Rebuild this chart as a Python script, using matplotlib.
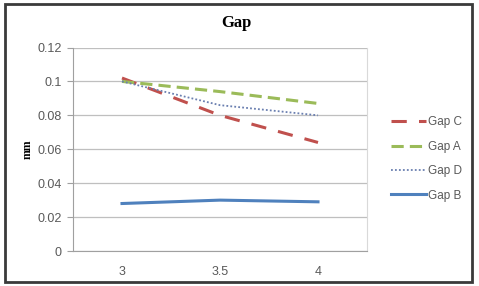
import matplotlib.pyplot as plt
from matplotlib.patches import Rectangle

# data
cats = ["3", "3.5", "4"]
gap_c = [0.102, 0.080, 0.064]
gap_a = [0.100, 0.094, 0.087]
gap_d = [0.100, 0.086, 0.080]
gap_b = [0.028, 0.030, 0.029]
yticks = [0, 0.02, 0.04, 0.06, 0.08, 0.1, 0.12]
ylabels = ["0", "0.02", "0.04", "0.06", "0.08", "0.1", "0.12"]

plt.rcParams['font.family'] = ['Liberation Sans', 'DejaVu Sans']

fig = plt.figure(figsize=(4.79, 2.86), dpi=100)
W, H = 479, 286
ax = fig.add_axes([73 / W, 1 - 251 / H, (367 - 73) / W, (251 - 47.5) / H])

x = list(range(len(cats)))
ax.plot(x, gap_c, color="#C0504D", lw=2.2, dashes=(5, 4), label="Gap C")
ax.plot(x, gap_a, color="#9BBB59", lw=2.2, dashes=(4, 2), label="Gap A")
ax.plot(x, gap_d, color="#6A7FB0", lw=1.3, dashes=(1, 1.2), label="Gap D")
ax.plot(x, gap_b, color="#4F81BD", lw=2.2, label="Gap B")

ax.set_xlim(-0.5, len(cats) - 0.5)
ax.set_ylim(0, 0.12)
ax.set_yticks(yticks)
ax.set_yticklabels(ylabels)
ax.set_xticks(x)
ax.set_xticklabels(cats)
ax.tick_params(axis="x", length=0, pad=11, labelsize=9, colors="#595959")
ax.tick_params(axis="y", length=4, color="#A0A0A0", labelsize=9, labelcolor="#595959", pad=4)
ax.grid(axis="y", color="#BFBFBF", lw=0.9)
ax.set_axisbelow(True)
ax.spines["top"].set_visible(False)
ax.spines["left"].set_color("#A0A0A0")
ax.spines["bottom"].set_color("#A0A0A0")
ax.spines["right"].set_color("#D9D9D9")

ax.set_ylabel("mm", fontfamily="Liberation Serif", fontweight="bold", fontsize=8.5, labelpad=3)
fig.text(236 / W, 1 - 23 / H, "Gap", ha="center", va="center",
         fontfamily="Liberation Serif", fontweight="bold", fontsize=12)

leg = fig.legend(loc="center left", bbox_to_anchor=(380 / W, 1 - 159 / H), frameon=False,
                 fontsize=8.5, handlelength=3.0, handletextpad=0.15, labelspacing=1.05)
for t in leg.get_texts():
    t.set_color("#595959")

fig.patches.append(Rectangle((5 / W, 4 / H), 467 / W, 278 / H, transform=fig.transFigure,
                             fill=False, edgecolor="#3A3A3A", lw=2))

fig.savefig("out.png", dpi=100)
